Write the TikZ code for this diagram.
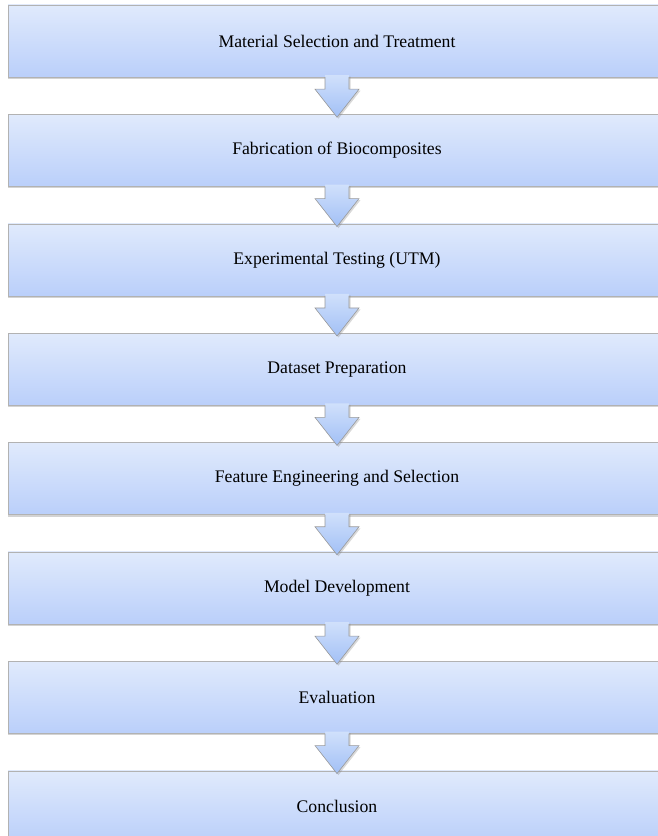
\documentclass[tikz,border=0pt]{standalone}
\usepackage{fontspec}
\setmainfont{Liberation Serif}
\usetikzlibrary{positioning,calc,shadows}

\definecolor{boxtop}{RGB}{224,234,252}
\definecolor{boxbottom}{RGB}{186,207,250}
\definecolor{arrowtop}{RGB}{208,224,251}
\definecolor{arrowbottom}{RGB}{162,192,246}

\tikzset{
    stage/.style={draw=black!30, top color=boxtop, bottom color=boxbottom,
        minimum width=658pt, minimum height=72pt, inner sep=0pt,
        font=\fontsize{17.7}{20}\selectfont,
        drop shadow={shadow xshift=0pt, shadow yshift=-2pt, opacity=0.35}},
    arrowfill/.style={top color=arrowtop, bottom color=arrowbottom,
        drop shadow={shadow xshift=1.5pt, shadow yshift=-1.5pt, opacity=0.3}},
    arrowline/.style={draw=black!40, line width=0.6pt, line join=miter}
}

\begin{document}
\begin{tikzpicture}[x=1pt, y=1pt, node distance=37pt]
    \useasboundingbox (0,0) rectangle (657,836);

    \node[stage] (mat) at (337,795) {Material Selection and Treatment};
    \node[stage, below=of mat] (fab) {Fabrication of Biocomposites};
    \node[stage, below=of fab] (test) {Experimental Testing (UTM)};
    \node[stage, below=of test] (data) {Dataset Preparation};
    \node[stage, below=of data] (feat) {Feature Engineering and Selection};
    \node[stage, below=of feat] (model) {Model Development};
    \node[stage, below=of model] (eval) {Evaluation};
    \node[stage, below=of eval] (concl) {Conclusion};

    % block arrows from one stage to the next
    \foreach \u/\v in {mat/fab, fab/test, test/data, data/feat, feat/model, model/eval, eval/concl} {
        \path[arrowfill] ($(\u.south)+(-12,2)$) -- ($(\u.south)+(-12,-12)$) -- ($(\u.south)+(-22,-12)$)
            -- ($(\v.north)+(0,-3)$) -- ($(\u.south)+(22,-12)$) -- ($(\u.south)+(12,-12)$)
            -- ($(\u.south)+(12,2)$) -- cycle;
        \draw[arrowline] ($(\u.south)+(-12,0)$) -- ($(\u.south)+(-12,-12)$) -- ($(\u.south)+(-22,-12)$)
            -- ($(\v.north)+(0,-3)$) -- ($(\u.south)+(22,-12)$) -- ($(\u.south)+(12,-12)$)
            -- ($(\u.south)+(12,0)$);
    }
\end{tikzpicture}
\end{document}
